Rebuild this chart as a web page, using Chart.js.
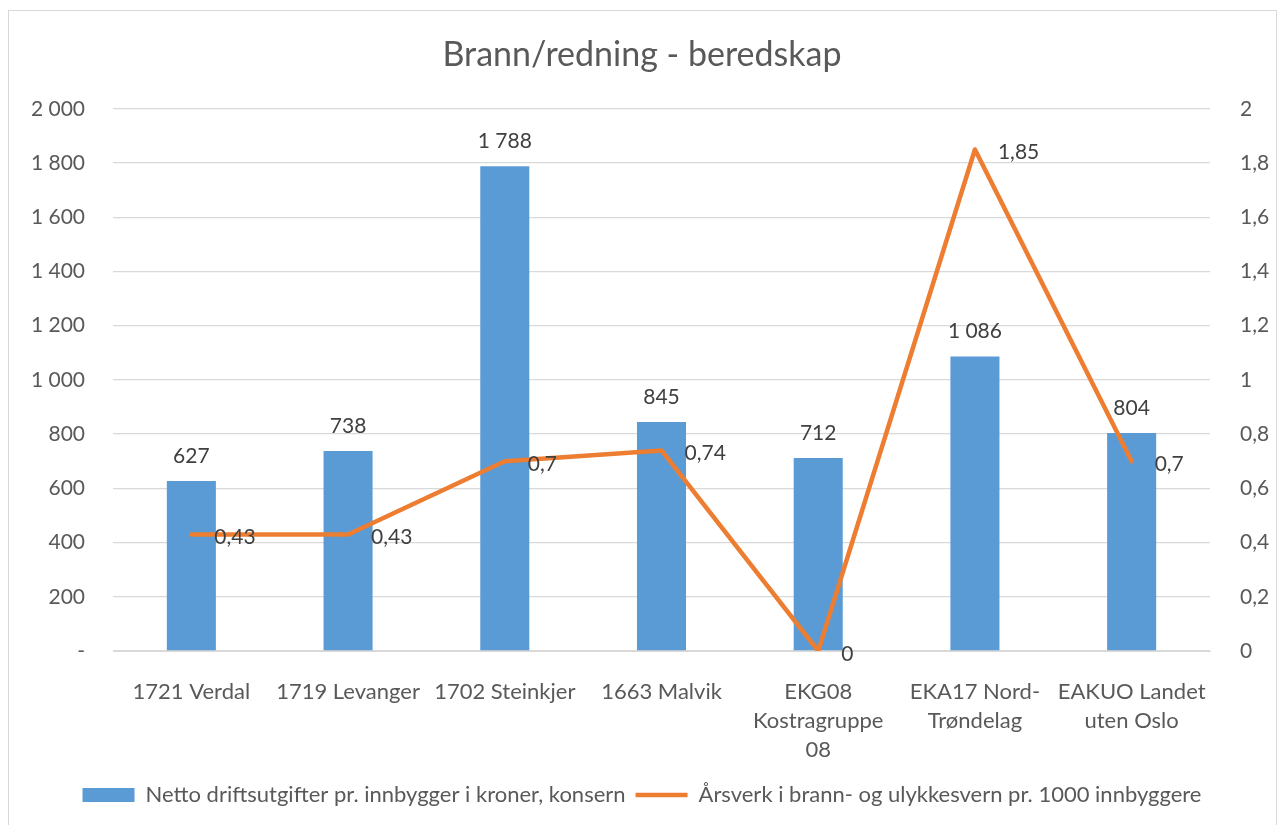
<!DOCTYPE html>
<html>
<head>
<meta charset="utf-8">
<script src="https://cdn.jsdelivr.net/npm/chart.js@4/dist/chart.umd.min.js"></script>
<style>
  html, body { margin: 0; padding: 0; background: #fff; }
  #wrap { width: 1284px; height: 825px; }
</style>
</head>
<body>
<div id="wrap"><canvas id="myChart" width="1284" height="825"></canvas></div>
<script>
const kategorier = [
    '1721 Verdal',
    '1719 Levanger',
    '1702 Steinkjer',
    '1663 Malvik',
    ['EKG08', 'Kostragruppe', '08'],
    ['EKA17 Nord-', 'Trøndelag'],
    ['EAKUO Landet', 'uten Oslo']
];
const nettoUtgifter = [627, 738, 1788, 845, 712, 1086, 804];
const aarsverk = [0.43, 0.43, 0.7, 0.74, 0, 1.85, 0.7];
const venstreTicks = [0, 200, 400, 600, 800, 1000, 1200, 1400, 1600, 1800, 2000];
const hoyreTicks = [0, 0.2, 0.4, 0.6, 0.8, 1, 1.2, 1.4, 1.6, 1.8, 2];

const blaa = '#5B9BD5';
const oransje = '#ED7D31';
const tekstFarge = '#595959';
const etikettFarge = '#404040';
const fontNavn = 'Lato, "Open Sans", sans-serif';

function tusen(v) {
    if (v === 0) return '-';
    return String(v).replace(/\B(?=(\d{3})+(?!\d))/g, ' ');
}
function komma(v) {
    return String(Math.round(v * 100) / 100).replace('.', ',');
}

// ramme rundt diagrammet
const rammePlugin = {
    id: 'ramme',
    beforeDraw(chart) {
        const ctx = chart.ctx;
        ctx.save();
        ctx.fillStyle = '#fff';
        ctx.fillRect(0, 0, chart.width, chart.height);
        ctx.strokeStyle = '#d9d9d9';
        ctx.lineWidth = 1;
        ctx.strokeRect(8.5, 10.5, 1268, 840);
        ctx.restore();
    }
};

// dataetiketter
const etikettPlugin = {
    id: 'etiketter',
    afterDatasetsDraw(chart) {
        const ctx = chart.ctx;
        ctx.save();
        ctx.font = '21px ' + fontNavn;
        ctx.fillStyle = etikettFarge;
        ctx.textBaseline = 'middle';
        chart.getDatasetMeta(0).data.forEach((bar, i) => {
            ctx.textAlign = 'center';
            ctx.fillText(tusen(nettoUtgifter[i]), bar.x, bar.y - 25);
        });
        chart.getDatasetMeta(1).data.forEach((pt, i) => {
            ctx.textAlign = 'left';
            ctx.fillText(komma(aarsverk[i]), pt.x + 23, pt.y + 3);
        });
        ctx.restore();
    }
};

const ctx = document.getElementById('myChart').getContext('2d');
const myChart = new Chart(ctx, {
    type: 'bar',
    data: {
        labels: kategorier,
        datasets: [{
            type: 'bar',
            label: 'Netto driftsutgifter pr. innbygger i kroner, konsern',
            data: nettoUtgifter,
            backgroundColor: blaa,
            borderWidth: 0,
            yAxisID: 'y',
            categoryPercentage: 0.313,
            barPercentage: 1,
            pointStyle: 'rect',
            order: 2
        }, {
            type: 'line',
            label: 'Årsverk i brann- og ulykkesvern pr. 1000 innbyggere',
            data: aarsverk,
            borderColor: oransje,
            backgroundColor: oransje,
            borderWidth: 4.5,
            borderCapStyle: 'round',
            borderJoinStyle: 'round',
            pointRadius: 0,
            pointHoverRadius: 0,
            tension: 0,
            yAxisID: 'y1',
            pointStyle: 'line',
            order: 1
        }]
    },
    options: {
        responsive: false,
        animation: false,
        layout: { padding: { left: 0, right: 0, top: 0, bottom: 9 } },
        plugins: {
            title: {
                display: true,
                text: 'Brann/redning - beredskap',
                color: tekstFarge,
                font: { family: fontNavn, size: 34, weight: 'normal', lineHeight: 1.2 },
                padding: { top: 35, bottom: 33 }
            },
            legend: {
                position: 'bottom',
                labels: {
                    color: tekstFarge,
                    font: { family: fontNavn, size: 22 },
                    usePointStyle: true,
                    pointStyleWidth: 52,
                    boxHeight: 14,
                    padding: 10,
                    sort: (a, b) => a.datasetIndex - b.datasetIndex
                }
            },
            tooltip: { enabled: false }
        },
        scales: {
            x: {
                grid: { display: false },
                border: { color: '#d9d9d9', width: 1 },
                ticks: {
                    color: tekstFarge,
                    font: { family: fontNavn, size: 22, lineHeight: 1.32 },
                    maxRotation: 0,
                    autoSkip: false,
                    padding: 18
                },
                afterFit(scale) { scale.height = 123; }
            },
            y: {
                position: 'left',
                min: 0,
                max: 2000,
                afterBuildTicks(scale) { scale.ticks = venstreTicks.map(v => ({ value: v })); },
                grid: { color: '#d9d9d9', lineWidth: 1.3, drawTicks: false },
                border: { display: false },
                ticks: {
                    color: tekstFarge,
                    font: { family: fontNavn, size: 21 },
                    padding: 28,
                    callback: v => tusen(v)
                },
                afterFit(scale) { scale.width = 113; }
            },
            y1: {
                position: 'right',
                min: 0,
                max: 2,
                afterBuildTicks(scale) { scale.ticks = hoyreTicks.map(v => ({ value: v })); },
                grid: { display: false },
                border: { display: false },
                ticks: {
                    color: tekstFarge,
                    font: { family: fontNavn, size: 21 },
                    padding: 22,
                    callback: v => komma(v)
                },
                afterFit(scale) { scale.width = 74; }
            }
        }
    },
    plugins: [rammePlugin, etikettPlugin]
});
</script>
</body>
</html>
